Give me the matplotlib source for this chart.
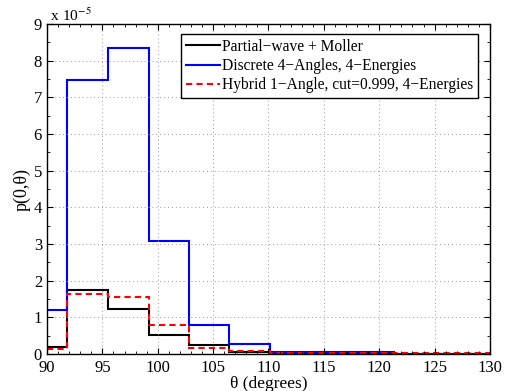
import matplotlib
matplotlib.use("Agg")
import matplotlib.pyplot as plt
from matplotlib.ticker import MultipleLocator, FuncFormatter

# bin edges in degrees
edges = [90.0, 91.8, 95.5, 99.2, 102.8, 106.4, 110.1, 113.8, 117.5, 121.3, 125.0, 130.0]

# p(0, theta) values, units of 1e-5
partial_wave = [0.20, 1.75, 1.23, 0.52, 0.24, 0.05, 0.03, 0.03, 0.03, 0.0, 0.0]
discrete = [1.20, 7.48, 8.35, 3.07, 0.80, 0.27, 0.05, 0.05, 0.05, 0.0, 0.0]
hybrid = [0.15, 1.63, 1.55, 0.80, 0.17, 0.07, 0.02, 0.02, 0.02, 0.02, 0.02]

labels = ["Partial\u2212wave + Moller",
          "Discrete 4\u2212Angles, 4\u2212Energies",
          "Hybrid 1\u2212Angle, cut=0.999, 4\u2212Energies"]

plt.rcParams['font.family'] = ['Liberation Serif', 'DejaVu Serif']
plt.rcParams['font.size'] = 12
plt.rcParams['mathtext.fontset'] = 'stix'

fig = plt.figure(figsize=(5.09, 3.91), dpi=100)
ax = fig.add_axes([0.0923, 0.0946, 0.8704, 0.844])

scale = 1e-5
ax.stairs([v * scale for v in partial_wave], edges, baseline=None,
          color='black', linewidth=1.5, label=labels[0])
ax.stairs([v * scale for v in discrete], edges, baseline=None,
          color='#0000ff', linewidth=1.5, label=labels[1])
ax.stairs([v * scale for v in hybrid], edges, baseline=None,
          color='#ff0000', linewidth=1.5, linestyle=(0, (3, 2)), label=labels[2])

ax.set_xlim(90, 130)
ax.set_ylim(0, 9e-5)
ax.xaxis.set_major_locator(MultipleLocator(5))
ax.xaxis.set_minor_locator(MultipleLocator(1))
ax.yaxis.set_major_locator(MultipleLocator(1e-5))
ax.yaxis.set_minor_locator(MultipleLocator(0.5e-5))
ax.yaxis.set_major_formatter(FuncFormatter(lambda v, p: "%d" % round(v / scale)))
ax.tick_params(which='both', direction='in', top=True, right=True, labelsize=12)
ax.tick_params(which='major', length=4)
ax.tick_params(axis='x', which='major', pad=4.5)
ax.tick_params(axis='y', which='major', pad=3.5)
ax.tick_params(which='minor', length=2)
for s in ax.spines.values():
    s.set_linewidth(1.0)
ax.grid(True, which='major', linestyle=(0, (1, 3)), color='#999999', linewidth=0.7)

ax.text(0.0, 1.0, " x 10$^{-5}$", transform=ax.transAxes, ha='left', va='bottom',
        fontsize=11)
ax.set_xlabel("\u03b8 (degrees)", fontsize=12.5, labelpad=0)
ax.set_ylabel("p(0,\u03b8)", fontsize=13, labelpad=2)

leg = ax.legend(loc='upper right', bbox_to_anchor=(0.973, 0.97), fancybox=False,
                edgecolor='black', framealpha=1, handlelength=2.2, fontsize=11.2,
                handletextpad=0.15, borderpad=0.3, labelspacing=0.22,
                borderaxespad=0)
leg.get_frame().set_linewidth(1.0)

plt.savefig("out.png", dpi=100)
